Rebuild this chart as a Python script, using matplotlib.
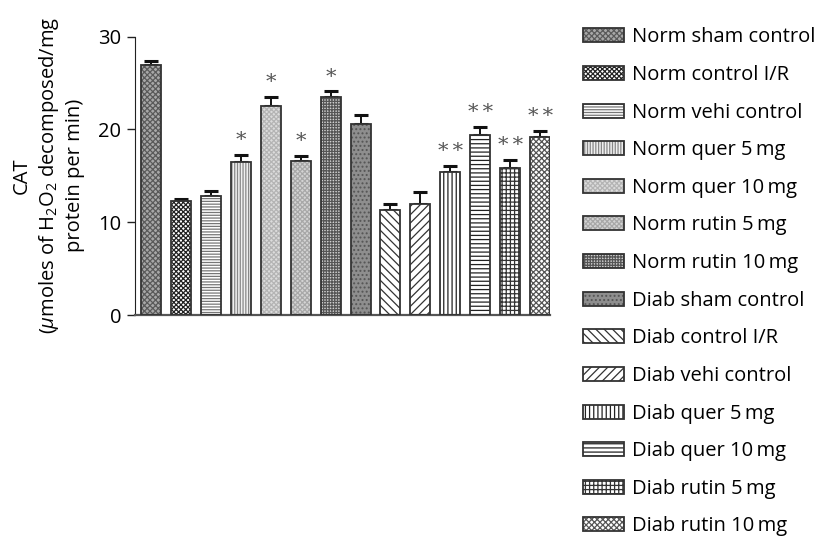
import matplotlib
matplotlib.use("Agg")
import matplotlib.pyplot as plt
from matplotlib.patches import Patch
from matplotlib.legend_handler import HandlerTuple
import numpy as np

plt.rcParams['font.family'] = ['Open Sans', 'DejaVu Sans']
plt.rcParams['mathtext.fontset'] = 'custom'
plt.rcParams['mathtext.rm'] = 'Open Sans'
plt.rcParams['mathtext.it'] = 'Open Sans:italic'
plt.rcParams['hatch.linewidth'] = 0.9

groups = ["Norm sham control", "Norm control I/R", "Norm vehi control",
          "Norm quer 5\u2009mg", "Norm quer 10\u2009mg", "Norm rutin 5\u2009mg",
          "Norm rutin 10\u2009mg", "Diab sham control", "Diab control I/R",
          "Diab vehi control", "Diab quer 5\u2009mg", "Diab quer 10\u2009mg",
          "Diab rutin 5\u2009mg", "Diab rutin 10\u2009mg"]
cat_mean = [27.0, 12.3, 12.8, 16.5, 22.5, 16.6, 23.5,
            20.6, 11.3, 12.0, 15.4, 19.4, 15.8, 19.2]
cat_sem = [0.4, 0.2, 0.55, 0.75, 1.05, 0.55, 0.6,
           1.0, 0.7, 1.25, 0.65, 0.9, 0.9, 0.65]
significance = ["", "", "", "*", "*", "*", "*",
                "", "", "", "*\u2009*", "*\u2009*", "*\u2009*", "*\u2009*"]

# fill colour, hatch pattern, hatch colour for each group
styles = [
    ("#a8a8a8", "xxxxxx", "#5a5a5a"),
    ("#ffffff", "xxxxxxx", "#222222"),
    ("#ffffff", "------", "#777777"),
    ("#f0f0f0", "||||||", "#888888"),
    ("#dcdcdc", "xxxxxxx", "#b4b4b4"),
    ("#d4d4d4", "xxxxxxx", "#a8a8a8"),
    ("#d0d0d0", "++++++", "#555555"),
    ("#8e8e8e", "....", "#555555"),
    ("#ffffff", "\\\\\\\\", "#333333"),
    ("#ffffff", "////", "#333333"),
    ("#ffffff", "||||", "#222222"),
    ("#ffffff", "----", "#222222"),
    ("#ffffff", "++++", "#333333"),
    ("#ffffff", "xxxxxx", "#555555"),
]

fig = plt.figure(figsize=(8.24, 5.37), dpi=100)
ax = fig.add_axes([0.1638, 0.4134, 0.5037, 0.5183])

x = np.arange(len(groups))
width = 0.67
outline = "#333333"

handles = []
for i in range(len(groups)):
    fc, hatch, hc = styles[i]
    ax.bar(x[i], cat_mean[i], width, color=fc, edgecolor=hc, hatch=hatch,
           linewidth=0, zorder=2)
    ax.bar(x[i], cat_mean[i], width, fill=False, edgecolor=outline,
           linewidth=1.3, zorder=3)
    handles.append((Patch(facecolor=fc, edgecolor=hc, hatch=hatch, linewidth=0),
                    Patch(fill=False, edgecolor=outline, linewidth=1.3)))

ax.errorbar(x, cat_mean, yerr=[np.zeros(len(x)), cat_sem], fmt="none",
            ecolor="#111111", elinewidth=1.4, capsize=5, capthick=2.2, zorder=1)

for i, mark in enumerate(significance):
    if mark:
        ax.text(x[i], cat_mean[i] + cat_sem[i] + 0.5, mark, ha="center",
                va="bottom", fontsize=15, color="#555555",
                family="DejaVu Serif", zorder=4)

ax.set_xlim(-0.535, 13.33)
ax.set_ylim(0, 30)
ax.set_yticks([0, 10, 20, 30])
ax.tick_params(axis="y", length=6, width=1, labelsize=14.5, pad=4, color="#222222")
ax.tick_params(axis="x", length=0, labelbottom=False)
for side in ("top", "right"):
    ax.spines[side].set_visible(False)
ax.spines["left"].set_color("#222222")
ax.spines["bottom"].set_color("#555555")
ax.spines["bottom"].set_linewidth(1.6)

ax.set_ylabel("CAT\n($\\mu$moles of H$_2$O$_2$ decomposed/mg\nprotein per min)",
              fontsize=14.5, linespacing=1.3, labelpad=9)

fig.legend(handles, groups, handler_map={tuple: HandlerTuple(ndivide=1)},
           loc="upper left", bbox_to_anchor=(0.708, 0.949), frameon=False,
           fontsize=14.5, handlelength=2.0, handleheight=0.7,
           handletextpad=0.4, labelspacing=0.875, borderpad=0, borderaxespad=0)

fig.savefig("out.png", dpi=100)
